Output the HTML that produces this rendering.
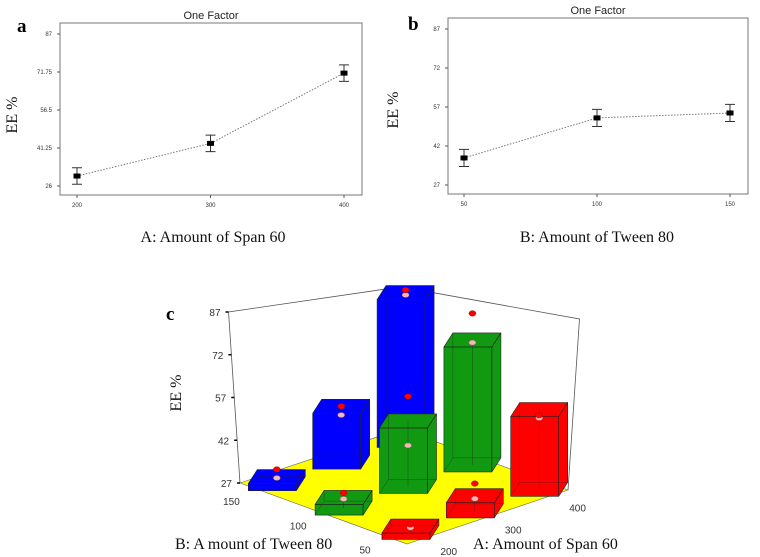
<!DOCTYPE html>
<html><head><meta charset="utf-8"><style>
body{margin:0;background:#fff}
svg{display:block}
.tk{font-family:"Liberation Sans",sans-serif;font-size:6px;fill:#333}
.tt{font-family:"Liberation Sans",sans-serif;font-size:11px;fill:#222}
.lab{font-family:"Liberation Serif",serif;font-size:16px;fill:#111}
.pl{font-family:"Liberation Serif",serif;font-size:19px;font-weight:bold;fill:#000}
.tk3{font-family:"Liberation Sans",sans-serif;font-size:10px;fill:#333}
</style></head><body>
<svg id="svg" width="760" height="557" viewBox="0 0 760 557" xmlns="http://www.w3.org/2000/svg"></svg>
<script>
// Panel a data
const aCats = [200, 300, 400];
const aVals = [30.0, 43.1, 71.3];
const aErrs = [3.3, 3.3, 3.3];
const aTicks = [26, 41.25, 56.5, 71.75, 87];
const aTickLabels = ["26", "41.25", "56.5", "71.75", "87"];
// Panel b data
const bCats = [50, 100, 150];
const bVals = [37.4, 52.8, 54.7];
const bErrs = [3.3, 3.3, 3.3];
const bTicks = [27, 42, 57, 72, 87];
// Panel c data (rows: Tween 80 = 50,100,150 ; cols: Span 60 = 200,300,400)
const cLevelsA = [200, 300, 400];
const cLevelsB = [50, 100, 150];
const cBarTop = [[29, 32, 55], [30.5, 50, 74], [29.5, 48, 87]];
const cPred = [[28.5, 31, 52], [30, 41.4, 73], [29, 44.7, 86]];
const cObs = [[29.5, 36, 53], [32, 58.6, 84], [32, 48, 88]];
const cZTicks = [27, 42, 57, 72, 87];

const NS = "http://www.w3.org/2000/svg";
const svg = document.getElementById("svg");
function el(tag, attrs, parent, text) {
  const e = document.createElementNS(NS, tag);
  for (const k in attrs) e.setAttribute(k, attrs[k]);
  if (text !== undefined) e.textContent = text;
  (parent || svg).appendChild(e);
  return e;
}

function onePanel(cfg) {
  const g = el("g", {});
  
  
  const xs = v => cfg.x0 + (v - cfg.cats[0]) / (cfg.cats[2] - cfg.cats[0]) * (cfg.x1 - cfg.x0);
  const ys = v => cfg.y0 - (v - cfg.ymin) / (cfg.ymax - cfg.ymin) * (cfg.y0 - cfg.y1);
  const box = el("rect", {x: cfg.bx0, y: cfg.by0, width: cfg.bx1 - cfg.bx0, height: cfg.by1 - cfg.by0, fill: "none", stroke: "#777", "stroke-width": 1}, g);
  
  
  const t = el("text", {x: (cfg.bx0 + cfg.bx1) / 2, y: cfg.by0 - 4, "text-anchor": "middle", class: "tt"}, g, "One Factor");
  
  
  cfg.ticks.forEach((v, i) => {
    const y = ys(v);
    const l = el("line", {x1: cfg.bx0 - 3, x2: cfg.bx0, y1: y, y2: y, stroke: "#555"}, g);
    
    
    const tx = el("text", {x: cfg.bx0 - 8, y: y + 2, "text-anchor": "end", class: "tk"}, g, cfg.tickLabels[i]);
    
    
  });
  cfg.cats.forEach(c => {
    const x = xs(c);
    const l = el("line", {x1: x, x2: x, y1: cfg.by1, y2: cfg.by1 + 3, stroke: "#555"}, g);
    
    
    const tx = el("text", {x: x, y: cfg.by1 + 12, "text-anchor": "middle", class: "tk"}, g, String(c));
    
    
  });
  const pts = cfg.cats.map((c, i) => xs(c) + "," + ys(cfg.vals[i])).join(" ");
  const pl = el("polyline", {points: pts, fill: "none", stroke: "#777", "stroke-width": 1, "stroke-dasharray": "1.5,1.5"}, g);
  
  
  cfg.cats.forEach((c, i) => {
    const x = xs(c), y = ys(cfg.vals[i]), yt = ys(cfg.vals[i] + cfg.errs[i]), yb = ys(cfg.vals[i] - cfg.errs[i]);
    const eb = el("path", {d: `M${x-5},${yt}H${x+5}M${x},${yt}V${yb}M${x-5},${yb}H${x+5}`, stroke: "#333", "stroke-width": 1, fill: "none"}, g);
    
    
    const p = el("rect", {x: x - 3.5, y: y - 2.5, width: 7, height: 5, fill: "#000"}, g);
    
    
  });
  const yl = el("text", {x: cfg.ylx, y: cfg.yly, "text-anchor": "middle", class: "lab", transform: `rotate(-90 ${cfg.ylx} ${cfg.yly})`}, g, "EE %");
  
  
  const xl = el("text", {x: cfg.xlx, y: 242, "text-anchor": "middle", class: "lab"}, g, cfg.xlabel);
  
  
  const pn = el("text", {x: cfg.plx, y: cfg.ply, class: "pl"}, g, cfg.letter);
  
  
}

onePanel({name: "panel-a", cats: aCats, vals: aVals, errs: aErrs, ticks: aTicks, tickLabels: aTickLabels,
  x0: 77, x1: 344, y0: 186, y1: 34, ymin: 26, ymax: 87, bx0: 60, bx1: 362, by0: 23, by1: 195,
  ylx: 17, yly: 115, xlx: 213, xlabel: "A: Amount of Span 60", letter: "a", plx: 17, ply: 32});
onePanel({name: "panel-b", cats: bCats, vals: bVals, errs: bErrs, ticks: bTicks, tickLabels: bTicks.map(String),
  x0: 464, x1: 730, y0: 185, y1: 29, ymin: 27, ymax: 87, bx0: 448, bx1: 748, by0: 18, by1: 194,
  ylx: 398, yly: 110, xlx: 597, xlabel: "B: Amount of Tween 80", letter: "b", plx: 408, ply: 30});

// Panel c - 3D bar chart
const gc = el("g", {});


function proj(a, b, z) {
  const fx = 407 + 161 * a - 167 * b, fy = 544 - 54 * a - 61 * b;
  const s = 3.33 - 0.48 * (a + b);
  const h = z - 27;
  return [fx + (fx - 404) * 0.07 * h / 60, fy - s * h];
}
const P = (a, b, z) => proj(a, b, z).join(",");
const aPos = v => 0.1 + (v - cLevelsA[0]) / (cLevelsA[2] - cLevelsA[0]) * 0.8;
const bPos = v => 0.1 + (v - cLevelsB[0]) / (cLevelsB[2] - cLevelsB[0]) * 0.8;

const walls = el("path", {d: `M${P(0,1,27)}L${P(0,1,87)}L${P(1,1,87)}L${P(1,0,87)}L${P(1,0,27)}M${P(1,1,87)}L${P(1,1,27)}`, fill: "none", stroke: "#555", "stroke-width": 0.8}, gc);


const floor = el("polygon", {points: [P(0,0,27), P(1,0,27), P(1,1,27), P(0,1,27)].join(" "), fill: "#ffff00", stroke: "#666", "stroke-width": 0.6}, gc);


cZTicks.forEach(v => {
  const [x, y] = proj(0, 1, v);
  const tm = el("line", {x1: x - 3, x2: x, y1: y, y2: y, stroke: "#000", "stroke-width": 1.5}, gc);
  
  
  const tl = el("text", {x: x - 8, y: y + 4, "text-anchor": "end", class: "tk3"}, gc, String(v));
  
  
});
cLevelsA.forEach(v => {
  const [x, y] = proj(aPos(v), -0.07, 27);
  const tl = el("text", {x: x + 14, y: y + 12, "text-anchor": "middle", class: "tk3"}, gc, String(v));
  
  
});
cLevelsB.forEach(v => {
  const [x, y] = proj(-0.07, bPos(v), 27);
  const tl = el("text", {x: x - 14, y: y + 12, "text-anchor": "middle", class: "tk3"}, gc, String(v));
  
  
});

const colors = ["#ff0000", "#119911", "#0000ff"];
const order = [];
cLevelsB.forEach((bv, j) => cLevelsA.forEach((av, i) => order.push([i, j])));
order.sort((p, q) => (q[0] + q[1]) - (p[0] + p[1]));
order.forEach(([i, j]) => {
  const a = aPos(cLevelsA[i]), b = bPos(cLevelsB[j]), top = cBarTop[j][i];
  const g = el("g", {}, gc);
  
  
  const col = colors[j];
  const [cx0, cy0] = proj(a, b, 27);
  const cx = cx0 + 4;
  const cy1 = proj(a, b, top)[1];
  const W = 48, dx = 9, dy = -14;
  const L = cx - W / 2 - dx / 2, R = L + W, yb = cy0 - dy / 2, yt = cy1 - dy / 2;
  const st = {fill: col, stroke: "#222", "stroke-width": 0.6, "stroke-linejoin": "round"};
  const fr = el("polygon", Object.assign({points: `${L},${yb} ${R},${yb} ${R},${yt} ${L},${yt}`}, st), g);
  
  
  const sd = el("polygon", Object.assign({points: `${R},${yb} ${R+dx},${yb+dy} ${R+dx},${yt+dy} ${R},${yt}`}, st), g);
  
  
  const tp = el("polygon", Object.assign({points: `${L},${yt} ${R},${yt} ${R+dx},${yt+dy} ${L+dx},${yt+dy}`}, st), g);
  
  
  const hid = el("path", {d: `M${L},${yb}L${L+dx},${yb+dy}H${R+dx}M${L+dx},${yb+dy}V${yt+dy}M${cx},${cy0}V${cy1}`, stroke: "#222", "stroke-width": 0.5, fill: "none", opacity: 0.6}, g);
  
  
  const py = proj(a, b, cPred[j][i])[1];
  const pd = el("ellipse", {cx: cx, cy: py, rx: 3.5, ry: 2.5, fill: "#f4b8b8", stroke: "#a55", "stroke-width": 0.4}, g);
  
  
  const oy = proj(a, b, cObs[j][i])[1];
  const od = el("ellipse", {cx: cx, cy: oy, rx: 3.5, ry: 2.8, fill: "#ff0000", stroke: "#900", "stroke-width": 0.4}, g);
  
  
});

const zl = el("text", {x: 181, y: 393, "text-anchor": "middle", class: "lab", transform: "rotate(-90 181 393)"}, gc, "EE %");


const bl = el("text", {x: 175, y: 549, class: "lab"}, gc, "B: A mount of Tween 80");


const al = el("text", {x: 473, y: 549, class: "lab"}, gc, "A: Amount of Span 60");


const cl = el("text", {x: 166, y: 320, class: "pl"}, gc, "c");


</script>
</body></html>
